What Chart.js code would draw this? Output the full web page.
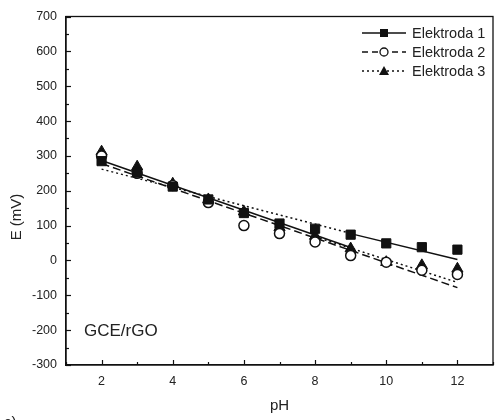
<!DOCTYPE html>
<html>
<head>
<meta charset="utf-8">
<script src="https://cdn.jsdelivr.net/npm/chart.js@4.4.1/dist/chart.umd.min.js"></script>
<style>
  html, body { margin: 0; padding: 0; background: #fff; }
  #wrap { width: 502px; height: 420px; position: relative; }
</style>
</head>
<body>
<div id="wrap"><canvas id="chart"></canvas></div>
<script>
// data
var pH = [2, 3, 4, 5, 6, 7, 8, 9, 10, 11, 12]
var elektroda1 = [285, 252, 212, 175, 136, 106, 91, 74, 49, 38, 31]
var elektroda2 = [300, 250, 215, 166, 100, 77, 53, 14, -5, -28, -40]
var elektroda3 = [312, 269, 220, 175, 140, 95, 70, 34, -5, -14, -24]

// fitted lines (end points as seen on the picture)
var fit1a = [[2, 287], [9, 37]]
var fit1b = [[9, 77], [12, 3]]
var fit2 = [[2, 278], [12, -78]]
var fit3a = [[2, 262], [9, 78]]
var fit3b = [[8, 68], [12, -63]]

var labels = ['Elektroda 1', 'Elektroda 2', 'Elektroda 3']
var yTicks = [-300, -200, -100, 0, 100, 200, 300, 400, 500, 600, 700]

var FONT = "'Liberation Sans', Arial, sans-serif"

function pts(ys) {
    return pH.map(function (x, i) { return { x: x, y: ys[i] } })
}
function seg(p) {
    return p.map(function (a) { return { x: a[0], y: a[1] } })
}
function fitSet(p, dash) {
    return {
        type: 'line',
        data: seg(p),
        borderColor: '#111',
        borderWidth: 1.5,
        borderDash: dash,
        pointRadius: 0,
        showLine: true,
        fill: false,
        order: 10
    }
}

// inside ticks, frame, legend and texts
var decor = {
    id: 'decor',
    afterDraw: function (chart) {
        var c = chart.ctx
        var a = chart.chartArea
        var xs = chart.scales.x
        var ys = chart.scales.y
        c.save()
        c.strokeStyle = '#111'
        c.lineWidth = 1.3
        c.strokeRect(a.left, a.top, a.right - a.left, a.bottom - a.top)

        c.lineWidth = 1.2
        for (var v = 1; v <= 13; v++) {
            var px = Math.round(xs.getPixelForValue(v)) + 0.5
            var len = v % 2 === 0 ? 5 : 3
            c.beginPath(); c.moveTo(px, a.bottom); c.lineTo(px, a.bottom - len); c.stroke()
        }
        for (var w = -300; w <= 700; w += 50) {
            var py = Math.round(ys.getPixelForValue(w)) + 0.5
            var l2 = w % 100 === 0 ? 5 : 3
            c.beginPath(); c.moveTo(a.left, py); c.lineTo(a.left + l2, py); c.stroke()
        }

        // legend
        var styles = [
            { dash: [], mark: 'rect' },
            { dash: [6, 4], mark: 'circle' },
            { dash: [2, 3], mark: 'tri' }
        ]
        c.font = '14.5px ' + FONT
        c.textBaseline = 'middle'
        c.textAlign = 'left'
        for (var i = 0; i < 3; i++) {
            var ly = 33 + i * 19
            c.setLineDash(styles[i].dash)
            c.lineWidth = 1.3
            c.beginPath(); c.moveTo(362, ly); c.lineTo(406, ly); c.stroke()
            c.setLineDash([])
            c.fillStyle = '#111'
            if (styles[i].mark === 'rect') {
                c.fillRect(380, ly - 4, 8, 8)
            } else if (styles[i].mark === 'circle') {
                c.fillStyle = '#fff'
                c.beginPath(); c.arc(384, ly, 4, 0, Math.PI * 2); c.fill(); c.stroke()
            } else {
                c.beginPath(); c.moveTo(384, ly - 5); c.lineTo(389, ly + 4); c.lineTo(379, ly + 4); c.closePath(); c.fill()
            }
            c.fillStyle = '#222'
            c.fillText(labels[i], 412, ly + 1)
        }

        // axis titles and texts
        c.fillStyle = '#222'
        c.font = '15px ' + FONT
        c.textAlign = 'center'
        c.fillText('pH', (a.left + a.right) / 2, 406)
        c.save()
        c.translate(17, 217)
        c.rotate(-Math.PI / 2)
        c.fillText('E (mV)', 0, 0)
        c.restore()
        c.font = '17px ' + FONT
        c.textAlign = 'left'
        c.fillText('GCE/rGO', 84, 331)
        c.font = '15px ' + FONT
        c.fillText('c)', 4, 423)
        c.restore()
    }
}

var ctx = document.getElementById('chart')
window.myChart = new Chart(ctx, {
    type: 'scatter',
    data: {
        datasets: [
            fitSet(fit1a, []),
            fitSet(fit1b, []),
            fitSet(fit2, [8, 4]),
            fitSet(fit3a, [2, 3]),
            fitSet(fit3b, [2, 3]),
            {
                data: pts(elektroda3),
                pointStyle: 'triangle',
                pointRadius: 6.5,
                backgroundColor: '#111',
                borderColor: '#111',
                borderWidth: 1,
                order: 3
            },
            {
                data: pts(elektroda2),
                pointStyle: 'circle',
                pointRadius: 5,
                backgroundColor: '#fff',
                borderColor: '#111',
                borderWidth: 1.5,
                order: 2
            },
            {
                data: pts(elektroda1),
                pointStyle: 'rect',
                pointRadius: 6.5,
                backgroundColor: '#111',
                borderColor: '#111',
                borderWidth: 1,
                order: 1
            }
        ]
    },
    options: {
        responsive: true,
        maintainAspectRatio: false,
        animation: false,
        layout: { padding: { left: 0, right: 3, top: 15, bottom: 0 } },
        plugins: {
            legend: { display: false },
            tooltip: { enabled: false }
        },
        scales: {
            x: {
                type: 'linear',
                min: 1,
                max: 13,
                grid: { display: false, drawTicks: false },
                border: { display: true, color: '#111', width: 1.3 },
                ticks: {
                    stepSize: 1,
                    autoSkip: false,
                    maxRotation: 0,
                    padding: 9,
                    color: '#222',
                    font: { family: FONT, size: 12.5 },
                    callback: function (v) { return v % 2 === 0 ? String(v) : '' }
                },
                afterFit: function (s) { s.height = 55 }
            },
            y: {
                min: -300,
                max: 700,
                grid: { display: false, drawTicks: false },
                border: { display: true, color: '#111', width: 1.3 },
                afterBuildTicks: function (s) {
                    s.ticks = yTicks.map(function (v) { return { value: v } })
                },
                ticks: {
                    padding: 9,
                    color: '#222',
                    font: { family: FONT, size: 12.5 }
                },
                afterFit: function (s) { s.width = 66 }
            }
        }
    },
    plugins: [decor]
})
</script>
</body>
</html>
